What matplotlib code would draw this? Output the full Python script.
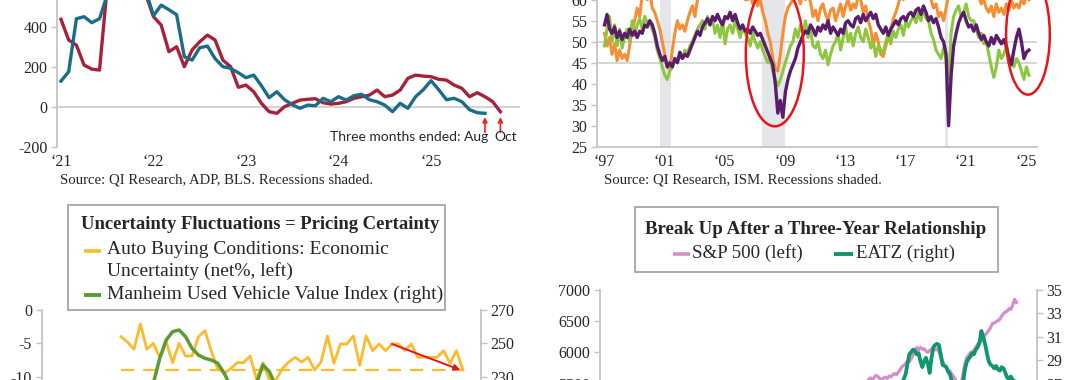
import matplotlib.pyplot as plt
import numpy as np
import pandas as pd
from matplotlib.patches import Ellipse, Rectangle
from matplotlib.lines import Line2D

W, H = 1080, 380
plt.rcParams['font.family'] = ['Liberation Serif', 'DejaVu Serif']
plt.rcParams['axes.unicode_minus'] = False
plt.rcParams['text.color'] = '#262626'
plt.rcParams['xtick.color'] = '#262626'
plt.rcParams['ytick.color'] = '#262626'

# ---------------- data ----------------
# panel 1: three-month average payroll growth (thousands), monthly from Jan 2021
bls_3m = [437, 333, 308, 208, 188, 183, 600, 640, 660, 640, 600, 560,
          450, 408, 275, 300, 200, 283, 325, 358, 333, 233, 200, 97,
          108, 75, 17, -25, -33, 0, 17, 33, 37, 40, 20, 13,
          17, 25, 42, 50, 58, 83, 50, 58, 83, 142, 158, 153,
          150, 137, 133, 108, 92, 50, 70, 50, 25, -25]
adp_3m = [128, 175, 440, 450, 420, 440, 560, 650, 700, 680, 620, 580,
          455, 508, 485, 460, 250, 233, 295, 303, 240, 200, 192, 170,
          145, 158, 105, 45, 75, 35, 10, -8, 8, 5, 42, 25,
          50, 33, 55, 62, 35, 25, 8, -25, 17, -8, 50, 85,
          130, 85, 35, 42, 25, -15, -30, -33]
years_p1 = [2021, 2022, 2023, 2024, 2025]

# panel 2: ISM indexes, every other month from Jul 1997
ism_orange = [52, 49, 51,
              47, 49.5, 45.5, 48, 46, 47,
              45.5, 49, 53, 55, 58, 56,
              61, 63, 60, 62, 58, 57,
              55, 53, 50, 47, 44, 43.5,
              48, 52, 55, 53, 54, 52.5,
              55, 57, 58.5, 56, 60, 63,
              65, 67, 68, 66, 64, 65,
              63, 66, 61, 64, 67, 65,
              64, 62, 65, 61, 62, 60,
              60, 61.5, 59, 62, 58.5, 60,
              57, 55, 52, 50, 46, 43.5,
              43, 47, 52, 56, 58, 59,
              60, 62, 61, 59, 62, 60,
              61, 59.5, 56, 57.5, 55, 58,
              59, 56.5, 55, 57.5, 58, 55,
              57, 59, 56, 58.5, 60, 57.5,
              59, 58, 61, 60, 57, 58.5,
              55, 53, 49, 52, 50, 47,
              46.5, 49, 51, 53, 55.5, 57,
              59, 61, 60, 62, 63, 64,
              65, 66, 68, 65, 63, 64,
              62, 60, 58, 59, 56, 57,
              55, 58, 61, 64, 66, 67,
              68, 70, 69, 67, 68, 66,
              65, 63, 61, 59, 60, 58,
              57, 58.5, 56, 59, 57, 58,
              56.5, 59, 57.5, 60, 58, 59,
              58, 60, 59, 61, 60]
ism_green = [49, 53, 56,
             50, 54, 49, 53, 48.5, 51,
             53, 50, 55, 51.5, 54, 55.5,
             53, 56, 54.5, 55, 53, 51,
             48, 46, 44, 42, 41, 43,
             44, 46, 45, 47, 46, 48,
             47, 49, 50, 51.5, 53, 54,
             55, 53, 56, 54, 55.5, 52,
             54, 51, 55, 49.5, 53, 54,
             52, 55, 53, 51, 53.5, 52,
             51, 49, 52, 50, 48.5, 50,
             48, 46.5, 45, 46, 43, 41,
             39.5, 41, 43, 45, 47, 49,
             50, 53, 51, 54, 52, 55,
             51, 53, 49, 48.5, 50, 47,
             46, 48, 44.5, 47, 49, 50,
             52, 48, 51, 53.5, 50, 52,
             49, 52, 53.5, 51, 50, 53,
             51, 48.5, 50, 46.5, 49, 48,
             47.5, 50, 52, 49.5, 52.5, 51,
             53, 54, 51.5, 55, 53.5, 55,
             56, 54.5, 57, 55, 58, 55.5,
             55, 52, 50.5, 48, 47, 46,
             48.5, 46, 41, 52, 56, 57.5,
             58.5, 56, 57, 59, 56, 55,
             55, 53, 51, 52, 49.5, 50,
             47, 44, 41.5, 44, 48, 46,
             47, 49, 45, 46.5, 44, 46,
             45, 43, 41, 44, 42]
ism_purple = [54, 56.5, 53,
              52, 53.5, 51, 52.5, 50.5, 52,
              51, 53, 51.5, 52.5, 51, 52.5,
              52, 54, 53.5, 55, 54, 52,
              49, 47, 45.5, 46.5, 44, 45,
              44, 46, 45, 47.5, 46, 47,
              46.5, 48, 49.5, 51, 52.5, 51.5,
              53.5, 54.5, 55.5, 54, 56, 55,
              56.5, 55, 54, 56, 55.5, 57,
              55, 56.5, 54.5, 53, 54, 52.5,
              53, 52, 53.5, 52.5, 51.5, 52,
              50.5, 49, 47.5, 46, 44.5, 40,
              33, 36, 32, 38, 41, 43,
              44.5, 46, 48.5, 50, 51.5, 52.5,
              52, 54, 53, 51.5, 53.5, 52.5,
              54, 53, 55, 52, 53.5, 52.5,
              51.5, 53, 52, 54.5, 55, 54,
              53.5, 55.5, 56, 54.5, 56.5, 55,
              56, 57, 55.5, 56.5, 54, 53,
              52, 53.5, 51.5, 53, 54, 55,
              54, 55.5, 56, 55, 56.5, 57,
              56, 57.5, 58, 56.5, 58.5, 57,
              55, 56, 54.5, 55.5, 53.5, 51,
              50, 47, 30, 42, 49, 52,
              54.5, 56, 57, 55, 53.5, 54,
              52.5, 54, 52, 50.5, 51.5, 50,
              49, 51, 49.5, 51.5, 50.5, 49.5,
              50.5, 49, 46, 44.5, 48, 51,
              53, 50, 46, 47.5, 48]
recessions = [(2001.18, 2001.91), (2007.95, 2009.47), (2020.09, 2020.29)]
years_p2 = [1997, 2001, 2005, 2009, 2013, 2017, 2021, 2025]

# panel 3: auto buying conditions (net %) and Manheim index, monthly
auto_uncert = [-4.0, -4.8, -5.9, -2.1, -5.9, -5.0, -7.1, -4.8, -7.9, -5.0,
               -6.9, -6.9, -4.0, -3.1, -6.2, -8.8, -9.5, -8.8, -7.9, -7.9,
               -6.9, -10.4, -7.9, -10.5, -10.5, -8.8, -7.8, -7.1, -7.8, -7.1,
               -9.0, -7.8, -3.9, -8.0, -5.1, -5.1, -3.9, -8.3, -3.9, -6.1,
               -5.1, -6.1, -5.1, -5.1, -6.1, -5.1, -7.1, -7.1, -7.1, -7.1,
               -6.1, -8.0, -6.1, -9.0]
manheim = [200, 205, 208, 212, 218, 226, 241, 252, 257, 258,
           254, 247, 243, 241, 240, 238, 232, 224, 216, 212,
           214, 226, 237, 233, 224, 216, 212, 210, 208, 207,
           206, 205, 206, 204, 205, 206, 204, 203, 205, 204,
           203, 204, 205, 204, 206, 207, 206, 205, 206, 207,
           208, 207, 206, 207]
uncert_level = -9.0
arrow_from = 42

# panel 4: S&P 500 and EATZ, weekly
sp_eatz_dates = pd.date_range('2024-03-15', periods=83, freq='W-FRI')
spx = [5480, 5520, 5570, 5590, 5560, 5600, 5630, 5610, 5580, 5550,
       5590, 5600, 5580, 5620, 5610, 5640, 5660, 5640, 5680, 5720,
       5770, 5790, 5820, 5860, 5850, 5900, 5960, 6030, 6075, 6040,
       6080, 6050, 6060, 6020, 6000, 6030, 6050, 6070, 6040, 6060,
       6010, 5930, 5860, 5800, 5760, 5720, 5700, 5650, 5610, 5560,
       5480, 5400, 5500, 5640, 5800, 5910, 5950, 5990, 6010, 6030,
       6080, 6130, 6160, 6180, 6230, 6280, 6310, 6350, 6400, 6460,
       6470, 6490, 6510, 6530, 6580, 6620, 6650, 6660, 6700, 6690,
       6760, 6850, 6800]
eatz = [24.8, 25.0, 25.3, 25.1, 25.4, 25.6, 25.3, 25.5, 25.8, 25.6,
        25.9, 26.1, 25.8, 26.2, 26.4, 26.1, 26.5, 26.3, 26.8, 26.6,
        27.0, 27.4, 27.8, 28.7, 29.5, 29.7, 29.9, 29.8, 29.5, 29.6,
        28.9, 28.4, 28.9, 29.2, 28.7, 27.9, 29.2, 30.1, 30.3, 30.4,
        30.3, 29.5, 28.6, 28.5, 28.4, 28.0, 27.8, 27.2, 26.8, 26.2,
        25.6, 25.2, 25.8, 26.9, 28.1, 28.8, 29.1, 29.3, 29.6, 29.5,
        29.9, 30.1, 30.5, 31.5, 31.0, 30.4, 29.6, 28.9, 28.6, 28.5,
        28.3, 28.5, 28.2, 28.1, 28.4, 28.3, 27.9, 27.5, 27.4, 27.6,
        27.3, 27.2, 27.0]

SPINE = '#C4C4C4'
TICK_FS = 11.5


def rect(l, t, r, b):
    return [l / W, 1 - b / H, (r - l) / W, (b - t) / H]


def style(ax, left=True, right=False, bottom=False):
    for side in ['top', 'right', 'left', 'bottom']:
        ax.spines[side].set_visible(False)
    for side, on in [('left', left), ('right', right), ('bottom', bottom)]:
        if on:
            ax.spines[side].set_visible(True)
            ax.spines[side].set_color(SPINE)
            ax.spines[side].set_linewidth(1.3)
    ax.tick_params(axis='y', length=4, width=1, color=SPINE, labelsize=TICK_FS, pad=3)
    ax.tick_params(axis='x', length=0, labelsize=TICK_FS, pad=5)
    ax.patch.set_alpha(0)


def ftext(x, y, s, **kw):
    fig.text(x / W, 1 - y / H, s, va='center', **kw)


def fline(x1, x2, y, color, lw):
    fig.add_artist(Line2D([x1 / W, x2 / W], [1 - y / H] * 2, color=color,
                          lw=lw, transform=fig.transFigure, solid_capstyle='butt',
                          zorder=12))


fig = plt.figure(figsize=(10.8, 3.8), dpi=100)

# ---------------- panel 1 ----------------
ax1 = fig.add_axes(rect(57, -53.3, 520, 146.7))
style(ax1)
m1 = lambda n: 2021 + np.arange(n) / 12
ax1.axhline(0, color='#CFCFCF', lw=1.3, zorder=1)
ax1.plot(m1(len(bls_3m)), bls_3m, color='#A8203A', lw=2.4, zorder=3)
ax1.plot(m1(len(adp_3m)), adp_3m, color='#1B6C88', lw=2.4, zorder=4)
ax1.set_ylim(-200, 800)
ax1.set_xlim(2020.957, 2025.962)
ax1.set_yticks([-200, 0, 200, 400])
ax1.set_xticks(years_p1)
ax1.set_xticklabels(['\u2018%02d' % (y % 100) for y in years_p1])
end_adp = m1(len(adp_3m))[-1]
end_bls = m1(len(bls_3m))[-1]
for xe in [end_adp, end_bls]:
    ax1.annotate('', xy=(xe, -52), xytext=(xe, -128),
                 arrowprops=dict(arrowstyle='-|>', color='#FF1E1E', lw=1.2,
                                 mutation_scale=7, shrinkA=0, shrinkB=0))
ax1.text(2025.616, -150, 'Three months ended: Aug', ha='right', va='center',
         fontsize=10, family=['Lato', 'DejaVu Sans'])
ax1.text(2025.81, -150, 'Oct', ha='center', va='center',
         fontsize=10, family=['Lato', 'DejaVu Sans'])
ftext(60, 180, 'Source: QI Research, ADP, BLS. Recessions shaded.', fontsize=10.6)

# ---------------- panel 2 ----------------
ax2 = fig.add_axes(rect(597, -21.3, 1037, 146.7))
style(ax2, bottom=True)
bim = lambda n: 1997.5 + np.arange(n) / 6
for a, b in recessions:
    ax2.axvspan(a, b, color='#E4E6E9', lw=0, zorder=0)
for lvl in [45, 50]:
    ax2.axhline(lvl, color='#D2D2D2', lw=1.3, zorder=1)
ax2.plot(bim(len(ism_orange)), ism_orange, color='#F78E35', lw=2.2, zorder=2)
ax2.plot(bim(len(ism_green)), ism_green, color='#8DC63F', lw=2.2, zorder=3)
ax2.plot(bim(len(ism_purple)), ism_purple, color='#5A1D6B', lw=2.4, zorder=4)
ax2.set_ylim(25, 65)
ax2.set_xlim(1997.0, 2026.2)
ax2.set_yticks(range(25, 61, 5))
ax2.set_xticks([y + 0.46 for y in years_p2])
ax2.set_xticklabels(['\u2018%02d' % (y % 100) for y in years_p2])
ax2.add_patch(Ellipse((2008.8, 47), 3.85, 34.3, fill=False, ec='#E8141B', lw=1.8,
                      clip_on=False, zorder=6))
ax2.add_patch(Ellipse((2025.6, 51.7), 2.9, 28.6, fill=False, ec='#E8141B', lw=1.8,
                      clip_on=False, zorder=6))
ftext(604, 180, 'Source: QI Research, ISM. Recessions shaded.', fontsize=10.6)

# ---------------- panel 3 ----------------
ax3 = fig.add_axes(rect(41.7, 310, 481, 443.3))
style(ax3, left=True)
ax3r = ax3.twinx()
style(ax3r, left=False, right=True)
x3 = np.arange(len(auto_uncert))
ax3.plot(x3, auto_uncert, color='#FDBA2C', lw=2.0, zorder=3)
ax3.hlines(uncert_level, x3[0], x3[-1], color='#FDBA2C', lw=1.6,
           linestyles=(0, (6, 4)), zorder=2)
ax3.annotate('', xy=(x3[-1] - 0.4, uncert_level), xytext=(x3[arrow_from], auto_uncert[arrow_from]),
             arrowprops=dict(arrowstyle='-|>', color='#E8141B', lw=1.4,
                             mutation_scale=9, shrinkA=0, shrinkB=0), zorder=5)
ax3r.plot(np.arange(len(manheim)), manheim, color='#5C9A33', lw=2.5, zorder=4)
ax3.set_ylim(-20, 0)
ax3r.set_ylim(190, 270)
ax3.set_xlim(-12.3, 55.8)
ax3.set_yticks([-10, -5, 0])
ax3r.set_yticks([230, 250, 270])
ax3.set_xticks([])

# legend box panel 3
fig.add_artist(Rectangle((67.5 / W, 1 - 310 / H), (444.6 - 67.5) / W, 105 / H,
                         transform=fig.transFigure, fill=True, fc='white',
                         ec='#A6A6A6', lw=1.3, zorder=10))
ftext(260, 225, 'Uncertainty Fluctuations = Pricing Certainty', ha='center',
      fontsize=13.4, weight='bold', zorder=11)
fline(84, 101, 251, '#FDBA2C', 2.6)
ftext(107, 250, 'Auto Buying Conditions: Economic', fontsize=14, zorder=11)
ftext(107, 271, 'Uncertainty (net%, left)', fontsize=14, zorder=11)
fline(84, 101, 295, '#5C9A33', 2.8)
ftext(107, 294, 'Manheim Used Vehicle Value Index (right)', fontsize=14, zorder=11)

# ---------------- panel 4 ----------------
ax4 = fig.add_axes(rect(600, 290, 1037, 477))
style(ax4, left=True)
ax4r = ax4.twinx()
style(ax4r, left=False, right=True)
ax4.plot(sp_eatz_dates, spx, color='#D78CCB', lw=2.3, zorder=3)
ax4r.plot(sp_eatz_dates, eatz, color='#10966E', lw=2.7, zorder=4)
ax4.set_ylim(4000, 7000)
ax4r.set_ylim(19, 35)
ax4.set_xlim(pd.Timestamp('2021-06-14'), pd.Timestamp('2025-12-27'))
ax4.set_yticks(range(5500, 7001, 500))
ax4r.set_yticks(range(27, 36, 2))
ax4.set_xticks([])

fig.add_artist(Rectangle((635 / W, 1 - 272 / H), (998.5 - 635) / W, 65 / H,
                         transform=fig.transFigure, fill=True, fc='white',
                         ec='#A6A6A6', lw=1.3, zorder=10))
ftext(816, 229, 'Break Up After a Three-Year Relationship', ha='center',
      fontsize=13.6, weight='bold', zorder=11)
fline(673, 690, 254, '#D78CCB', 2.6)
ftext(692, 253, 'S&P 500 (left)', fontsize=13.6, zorder=11)
fline(834, 853, 254, '#10966E', 2.8)
ftext(856, 253, 'EATZ (right)', fontsize=13.6, zorder=11)

fig.savefig('out.png', dpi=100)
